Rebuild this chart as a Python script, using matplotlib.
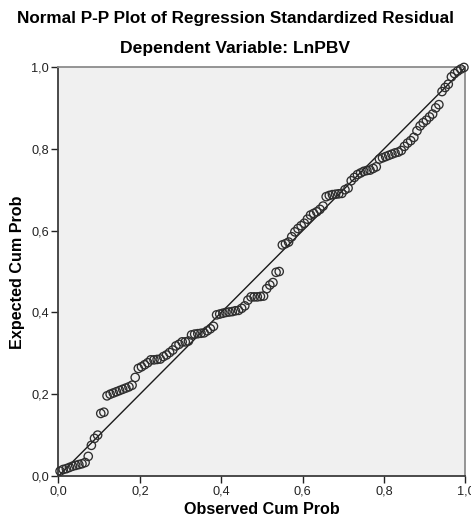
import numpy as np
import matplotlib
matplotlib.use("Agg")
import matplotlib.pyplot as plt
from matplotlib.ticker import FuncFormatter

plt.rcParams['font.family'] = ['Liberation Sans', 'DejaVu Sans']

title = "Normal P-P Plot of Regression Standardized Residual"
subtitle = "Dependent Variable: LnPBV"
x_label = "Observed Cum Prob"
y_label = "Expected Cum Prob"
ticks = [0.0, 0.2, 0.4, 0.6, 0.8, 1.0]

# expected cum prob of each residual, in rank order
expected = [
    0.012, 0.016, 0.018, 0.021, 0.024, 0.026, 0.028, 0.030, 0.033, 0.048,
    0.075, 0.092, 0.100, 0.153, 0.156, 0.196, 0.200, 0.203, 0.206, 0.209,
    0.212, 0.215, 0.218, 0.222, 0.241, 0.263, 0.267, 0.272, 0.277, 0.284,
    0.284, 0.285, 0.286, 0.292, 0.296, 0.302, 0.308, 0.318, 0.322, 0.328,
    0.328, 0.330, 0.345, 0.347, 0.348, 0.349, 0.350, 0.355, 0.360, 0.366,
    0.394, 0.396, 0.398, 0.400, 0.401, 0.402, 0.404, 0.405, 0.410, 0.416,
    0.430, 0.438, 0.438, 0.438, 0.439, 0.440, 0.458, 0.467, 0.473, 0.498,
    0.500, 0.565, 0.568, 0.572, 0.585, 0.597, 0.605, 0.612, 0.618, 0.628,
    0.638, 0.642, 0.646, 0.652, 0.660, 0.683, 0.686, 0.688, 0.689, 0.690,
    0.691, 0.700, 0.704, 0.722, 0.730, 0.737, 0.741, 0.745, 0.747, 0.748,
    0.752, 0.756, 0.775, 0.778, 0.781, 0.784, 0.787, 0.790, 0.792, 0.796,
    0.806, 0.814, 0.820, 0.828, 0.844, 0.856, 0.864, 0.870, 0.878, 0.885,
    0.900, 0.908, 0.940, 0.950, 0.958, 0.976, 0.984, 0.990, 0.995, 0.999,
]

# observed cum prob: rank of each case over n
n = len(expected)
observed = (np.arange(1, n + 1) - 0.5) / n

fig = plt.figure(figsize=(4.71, 5.22), dpi=100)
ax = fig.add_axes([0.1242, 0.0881, 0.8641, 0.7835])
ax.set_facecolor('#f0f0f0')

ax.plot([0, 1], [0, 1], color='#1a1a1a', lw=1.0, zorder=2)
ax.scatter(observed, expected, s=36, facecolors='none',
           edgecolors='#2e2e2e', linewidths=0.95, zorder=3, clip_on=False)

ax.set_xlim(0, 1)
ax.set_ylim(0, 1)
ax.set_xticks(ticks)
ax.set_yticks(ticks)
fmt = FuncFormatter(lambda v, p: ("%.1f" % v).replace('.', ','))
ax.xaxis.set_major_formatter(fmt)
ax.yaxis.set_major_formatter(fmt)
ax.tick_params(direction='out', length=5, width=1, colors='#222222',
               labelsize=9.2, pad=2)

for side in ['left', 'bottom']:
    ax.spines[side].set_color('#3c3c3c')
    ax.spines[side].set_linewidth(1.3)
for side in ['top', 'right']:
    ax.spines[side].set_color('#8c8c8c')
    ax.spines[side].set_linewidth(1.3)

fig.text(0.5, 0.9645, title, ha='center', va='center',
         fontsize=12.3, fontweight='bold')
fig.text(0.5, 0.907, subtitle, ha='center', va='center',
         fontsize=12.6, fontweight='bold')
fig.text(0.556, 0.023, x_label, ha='center', va='center',
         fontsize=11.6, fontweight='bold')
fig.text(0.038, 0.479, y_label, ha='center', va='center',
         fontsize=11.6, fontweight='bold', rotation=90)

plt.savefig('out.png', dpi=100)
plt.close()
